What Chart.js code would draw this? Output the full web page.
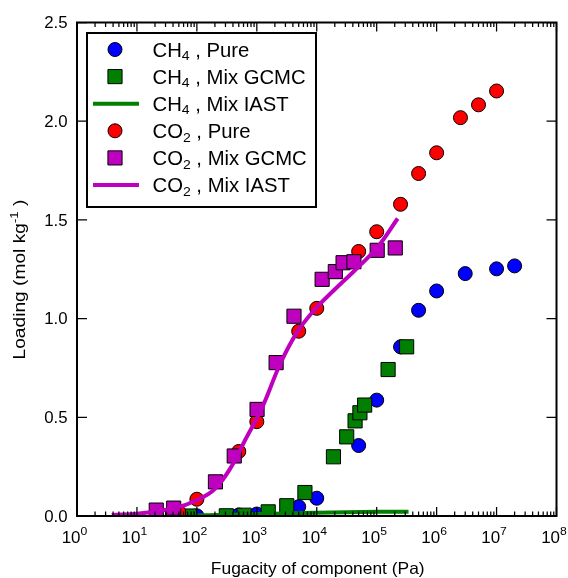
<!DOCTYPE html>
<html>
<head>
<meta charset="utf-8">
<style>
  html, body { margin: 0; padding: 0; background: #ffffff; }
  #wrap { width: 568px; height: 578px; }
</style>
<script src="https://cdn.jsdelivr.net/npm/chart.js@4/dist/chart.umd.min.js"></script>
</head>
<body>
<div id="wrap"><canvas id="chart" width="568" height="578"></canvas></div>
<script>
// ---- data: fugacity (Pa) and loading (mol/kg) ----
const ch4PureFugacity = [100, 500, 1000, 5000, 1e4, 5e4, 1e5, 2.5e5, 5e5, 1e6, 3e6, 1e7, 2e7];
const ch4PureLoading  = [0.001, 0.005, 0.01, 0.047, 0.09, 0.357, 0.587, 0.857, 1.042, 1.14, 1.228, 1.252, 1.267];

const ch4MixFugacity = [75, 310, 615, 1550, 3160, 6350, 19000, 31600, 43600, 52500, 63000, 155000, 316000];
const ch4MixLoading  = [0.0, 0.001, 0.004, 0.021, 0.052, 0.119, 0.30, 0.401, 0.482, 0.523, 0.562, 0.742, 0.857];

const ch4IastFugacity = [75, 316, 1000, 3160, 1e4, 31600, 1e5, 340000];
const ch4IastLoading  = [0.002, 0.006, 0.010, 0.013, 0.017, 0.019, 0.021, 0.022];

const co2PureFugacity = [50, 100, 500, 1000, 5000, 1e4, 5e4, 1e5, 2.5e5, 5e5, 1e6, 2.5e6, 5e6, 1e7];
const co2PureLoading  = [0.02, 0.085, 0.327, 0.478, 0.936, 1.052, 1.34, 1.44, 1.579, 1.735, 1.84, 2.018, 2.083, 2.153];

const co2MixFugacity = [21, 41, 204, 420, 1010, 2100, 4170, 12300, 20400, 27500, 41700, 102000, 204000];
const co2MixLoading  = [0.03, 0.04, 0.173, 0.304, 0.54, 0.777, 1.012, 1.199, 1.238, 1.283, 1.288, 1.346, 1.358];

const co2IastFugacity = [3.8, 11, 41, 100, 204, 407, 603, 1230, 2450, 4680, 8900, 19500, 41700, 102000, 224000];
const co2IastLoading  = [0.005, 0.013, 0.039, 0.08, 0.14, 0.267, 0.37, 0.55, 0.77, 0.93, 1.04, 1.145, 1.24, 1.36, 1.507];

// ---- axis labels ----
const xTickExponents = [0, 1, 2, 3, 4, 5, 6, 7, 8];
const yTickValues = [0, 0.5, 1.0, 1.5, 2.0, 2.5];
const yTickLabels = ['0.0', '0.5', '1.0', '1.5', '2.0', '2.5'];
const xTitle = 'Fugacity of component (Pa)';

// ---- legend entries: species (base + subscript digit) and kind ----
const seriesSpecies = [['CH', '4'], ['CH', '4'], ['CH', '4'], ['CO', '2'], ['CO', '2'], ['CO', '2']];
const seriesKind = ['Pure', 'Mix GCMC', 'Mix IAST', 'Pure', 'Mix GCMC', 'Mix IAST'];

const FONT = '"Liberation Sans", Arial, Helvetica, sans-serif';
const BLUE = '#0000ff', GREEN = '#007f00', RED = '#ff0000', MAGENTA = '#bf00bf';

const pts = (xs, ys) => xs.map((x, i) => ({ x: x, y: ys[i] }));

function markerSet(label, xs, ys, color, style, radius, order) {
  return {
    label: label, data: pts(xs, ys), showLine: false,
    pointStyle: style, pointRadius: radius, pointHoverRadius: radius,
    backgroundColor: color, borderColor: '#000000', pointBorderWidth: 1, borderWidth: 1,
    clip: 0, order: order, legendKind: 'marker'
  };
}
function lineSet(label, xs, ys, color, order) {
  return {
    label: label, data: pts(xs, ys), showLine: true,
    borderColor: color, backgroundColor: color, borderWidth: 4,
    borderCapStyle: 'butt', borderJoinStyle: 'round', tension: 0.4,
    pointRadius: 0, pointHoverRadius: 0,
    clip: 0, order: order, legendKind: 'line'
  };
}

const datasets = [
  markerSet('CH₄ , Pure', ch4PureFugacity, ch4PureLoading, BLUE, 'circle', 7, 5),
  markerSet('CH₄ , Mix GCMC', ch4MixFugacity, ch4MixLoading, GREEN, 'rect', 10, 4),
  lineSet('CH₄ , Mix IAST', ch4IastFugacity, ch4IastLoading, GREEN, 3),
  markerSet('CO₂ , Pure', co2PureFugacity, co2PureLoading, RED, 'circle', 7, 2),
  markerSet('CO₂ , Mix GCMC', co2MixFugacity, co2MixLoading, MAGENTA, 'rect', 10, 1),
  lineSet('CO₂ , Mix IAST', co2IastFugacity, co2IastLoading, MAGENTA, 0)
];

// Draw a run of text pieces (for sub/superscripts) with an optional horizontal stretch.
function drawPieces(ctx, pieces, x, y, align, stretch, rotate) {
  const widths = pieces.map(p => { ctx.font = p.size + 'px ' + FONT; return ctx.measureText(p.text).width; });
  const total = widths.reduce((a, b) => a + b, 0);
  ctx.save();
  ctx.translate(x, y);
  if (rotate) ctx.rotate(rotate);
  ctx.scale(stretch, 1);
  ctx.textAlign = 'left';
  ctx.textBaseline = 'alphabetic';
  ctx.fillStyle = '#000000';
  let cx = align === 'center' ? -total / 2 : (align === 'right' ? -total : 0);
  pieces.forEach((p, i) => {
    ctx.font = p.size + 'px ' + FONT;
    ctx.fillText(p.text, cx, p.dy || 0);
    cx += widths[i];
  });
  ctx.restore();
  return total;
}

const framePlugin = {
  id: 'frameAndLabels',
  afterDatasetsDraw(chart) {
    const ctx = chart.ctx;
    const area = chart.chartArea;
    const xs = chart.scales.x, ys = chart.scales.y;

    ctx.save();
    ctx.strokeStyle = '#000000';
    ctx.lineWidth = 1.25;
    ctx.beginPath();
    // log-axis ticks, inward on bottom and top
    xTickExponents.forEach(e => {
      const px = xs.getPixelForValue(Math.pow(10, e));
      ctx.moveTo(px, area.bottom); ctx.lineTo(px, area.bottom - 9);
      ctx.moveTo(px, area.top); ctx.lineTo(px, area.top + 9);
      if (e < 8) {
        for (let k = 2; k <= 9; k++) {
          const mx = xs.getPixelForValue(k * Math.pow(10, e));
          ctx.moveTo(mx, area.bottom); ctx.lineTo(mx, area.bottom - 4.5);
          ctx.moveTo(mx, area.top); ctx.lineTo(mx, area.top + 4.5);
        }
      }
    });
    // loading ticks, inward on left and right
    yTickValues.forEach(v => {
      const py = ys.getPixelForValue(v);
      ctx.moveTo(area.left, py); ctx.lineTo(area.left + 10, py);
      ctx.moveTo(area.right, py); ctx.lineTo(area.right - 10, py);
    });
    ctx.stroke();

    // plot frame
    ctx.lineWidth = 2;
    ctx.strokeRect(area.left, area.top, area.right - area.left, area.bottom - area.top);
    ctx.restore();

    // y tick labels
    yTickValues.forEach((v, i) => {
      const py = ys.getPixelForValue(v);
      drawPieces(ctx, [{ text: yTickLabels[i], size: 16 }], 67.5, py + 5.7, 'right', 1.05);
    });
    // x tick labels: 10 with superscript exponent
    xTickExponents.forEach(e => {
      const px = xs.getPixelForValue(Math.pow(10, e));
      drawPieces(ctx, [
        { text: '10', size: 16 },
        { text: String(e), size: 11.5, dy: -8 }
      ], px - 2.5, 543.3, 'center', 1.06);
    });

    // axis titles
    drawPieces(ctx, [{ text: xTitle, size: 16.5 }], (area.left + area.right) / 2 + 1, 573.5, 'center', 1.055);
    const yPieces = [
      { text: 'Loading (mol kg', size: 16.5 },
      { text: '-1', size: 11.5, dy: -6.5 },
      { text: ' )', size: 16.5 }
    ];
    let natural = 0;
    yPieces.forEach(p => { ctx.font = p.size + 'px ' + FONT; natural += ctx.measureText(p.text).width; });
    drawPieces(ctx, yPieces, 24.5, 279.5, 'center', 160 / natural, -Math.PI / 2);

    // legend box
    const box = { x: 87, y: 33, w: 229, h: 174 };
    ctx.save();
    ctx.fillStyle = '#ffffff';
    ctx.fillRect(box.x, box.y, box.w, box.h);
    ctx.strokeStyle = '#000000';
    ctx.lineWidth = 2;
    ctx.strokeRect(box.x, box.y, box.w, box.h);
    ctx.restore();

    chart.data.datasets.forEach((ds, i) => {
      const rowY = 49.5 + i * 27.1;
      ctx.save();
      if (ds.legendKind === 'line') {
        ctx.strokeStyle = ds.borderColor;
        ctx.lineWidth = 4;
        ctx.lineCap = 'butt';
        ctx.beginPath();
        ctx.moveTo(93, rowY); ctx.lineTo(139, rowY);
        ctx.stroke();
      } else {
        ctx.fillStyle = ds.backgroundColor;
        ctx.strokeStyle = '#000000';
        ctx.lineWidth = 1;
        Chart.helpers.drawPoint(ctx, { pointStyle: ds.pointStyle, radius: ds.pointRadius, borderWidth: 1, rotation: 0 }, 115, rowY);
      }
      ctx.restore();
      drawPieces(ctx, [
        { text: seriesSpecies[i][0], size: 19.5 },
        { text: seriesSpecies[i][1], size: 13.5, dy: 3.5 },
        { text: ' , ' + seriesKind[i], size: 19.5 }
      ], 152.5, rowY + 7.2, 'left', 1.04);
    });
  }
};

new Chart(document.getElementById('chart'), {
  type: 'scatter',
  data: { datasets: datasets },
  options: {
    responsive: false,
    devicePixelRatio: 1,
    animation: false,
    layout: { padding: { top: 22.5, right: 11.5, left: 0, bottom: 0 } },
    plugins: { legend: { display: false }, tooltip: { enabled: false } },
    scales: {
      x: {
        type: 'logarithmic', min: 1, max: 1e8, position: 'bottom',
        grid: { display: false }, border: { display: false },
        ticks: { display: false },
        afterFit: s => { s.height = 62; }
      },
      y: {
        type: 'linear', min: 0, max: 2.5, position: 'left',
        grid: { display: false }, border: { display: false },
        ticks: { display: false },
        afterFit: s => { s.width = 77; }
      }
    }
  },
  plugins: [framePlugin]
});
</script>
</body>
</html>
